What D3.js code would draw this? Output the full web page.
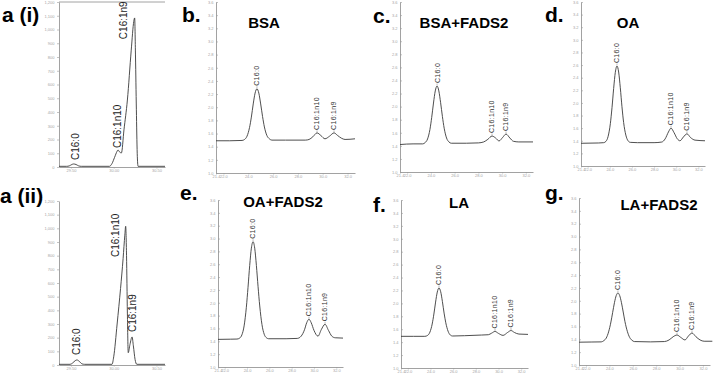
<!DOCTYPE html>
<html>
<head>
<meta charset="utf-8">
<script src="https://cdn.jsdelivr.net/npm/d3@7"></script>
<style>
  body { margin: 0; background: #fff; }
  svg { display: block; font-family: Arial, "Liberation Sans", sans-serif; }
</style>
</head>
<body>
<script>
const W = 713, H = 374;

// ---- data ----
// a panels: retention time (min) vs intensity
const aYTicks = [0, 100, 200, 300, 400, 500, 600, 700, 800, 900, 1000, 1100, 1200];
const aXTicks = [29.5, 30.0, 30.5];
// b-g panels
const yTicks = [1.0, 1.2, 1.4, 1.6, 1.8, 2.0, 2.2, 2.4, 2.6, 2.8, 3.0, 3.2, 3.4, 3.6];
const xTicks = [21.4, 22, 24, 26, 28, 30, 32];

const traceAi = [
  [29.36, 5], [29.45, 5], [29.48, 8], [29.51, 18], [29.53, 22], [29.56, 18], [29.59, 8], [29.62, 5],
  [29.95, 5], [29.98, 25], [30.01, 70], [30.04, 115], [30.05, 124], [30.065, 112], [30.09, 102],
  [30.12, 270], [30.16, 487], [30.205, 850], [30.235, 1060], [30.245, 1084], [30.255, 800],
  [30.265, 420], [30.275, 100], [30.285, 5], [30.6, 5]
];
const traceAii = [
  [29.36, 5], [29.49, 5], [29.52, 15], [29.55, 32], [29.57, 37], [29.6, 25], [29.63, 8], [29.66, 5],
  [29.98, 5], [30.0, 60], [30.04, 300], [30.08, 560], [30.11, 780], [30.13, 950], [30.14, 1015],
  [30.15, 800], [30.16, 380], [30.17, 90], [30.19, 150], [30.215, 205], [30.23, 140], [30.25, 40],
  [30.27, 5], [30.6, 5]
];
const labelsAi = [["C16:0", 29.55, 51], ["C16:1n10", 30.05, 138], ["C16:1n9", 30.115, 930]];
const labelsAii = [["C16:0", 29.57, 73], ["C16:1n10", 30.025, 790], ["C16:1n9", 30.22, 241]];

const traceB = [
  [21.4, 1.49], [22.5, 1.49], [23.5, 1.495],
  [23.7, 1.51], [23.9, 1.56], [24.1, 1.69], [24.25, 1.85], [24.4, 2.05], [24.55, 2.215], [24.7, 2.28],
  [24.85, 2.215], [25.0, 2.05], [25.15, 1.86], [25.3, 1.70], [25.5, 1.57], [25.7, 1.52], [25.9, 1.50],
  [27.0, 1.50], [28.6, 1.50], [28.9, 1.51], [29.2, 1.55], [29.54, 1.61], [29.85, 1.57], [30.18, 1.52],
  [30.55, 1.56], [30.91, 1.61], [31.2, 1.57], [31.5, 1.53], [31.8, 1.51], [32.6, 1.52]
];
const traceC = [
  [21.4, 1.42], [22.5, 1.43], [23.3, 1.43],
  [23.52, 1.45], [23.72, 1.505], [23.92, 1.65], [24.07, 1.835], [24.22, 2.055], [24.37, 2.24], [24.52, 2.315],
  [24.67, 2.24], [24.82, 2.06], [24.97, 1.85], [25.12, 1.67], [25.32, 1.52], [25.52, 1.46], [25.72, 1.44],
  [27.0, 1.44], [28.0, 1.445], [28.45, 1.46], [28.8, 1.50], [29.15, 1.55], [29.45, 1.52], [29.74, 1.475],
  [30.05, 1.53], [30.33, 1.58], [30.65, 1.52], [30.95, 1.47], [31.4, 1.46], [32.6, 1.46]
];
const traceD = [
  [21.4, 1.36], [23.0, 1.365], [23.45, 1.37],
  [23.65, 1.39], [23.85, 1.47], [24.05, 1.67], [24.2, 1.925], [24.35, 2.23], [24.5, 2.485], [24.65, 2.585],
  [24.8, 2.49], [24.95, 2.24], [25.1, 1.94], [25.25, 1.69], [25.45, 1.49], [25.65, 1.40], [25.85, 1.375],
  [26.5, 1.37], [28.0, 1.37], [28.7, 1.38], [29.0, 1.43], [29.3, 1.54], [29.53, 1.60], [29.8, 1.53],
  [30.1, 1.43], [30.34, 1.40], [30.65, 1.46], [30.97, 1.51], [31.3, 1.45], [31.7, 1.41], [32.6, 1.40]
];
const traceE = [
  [21.4, 1.43], [22.5, 1.433], [23.1, 1.435],
  [23.34, 1.45], [23.54, 1.50], [23.74, 1.64], [23.94, 1.93], [24.09, 2.24], [24.24, 2.58], [24.39, 2.85],
  [24.54, 2.95], [24.69, 2.85], [24.84, 2.58], [24.99, 2.25], [25.14, 1.95], [25.34, 1.66], [25.54, 1.51],
  [25.74, 1.455], [25.94, 1.44], [27.5, 1.44], [28.5, 1.445], [28.85, 1.48], [29.15, 1.58], [29.35, 1.69],
  [29.55, 1.743], [29.75, 1.69], [30.0, 1.57], [30.36, 1.48], [30.65, 1.58], [30.99, 1.665], [31.3, 1.57],
  [31.6, 1.48], [31.9, 1.455], [32.6, 1.45]
];
const traceF = [
  [21.4, 1.49], [22.5, 1.49], [23.5, 1.49],
  [23.75, 1.505], [23.95, 1.555], [24.15, 1.68], [24.3, 1.835], [24.45, 2.02], [24.6, 2.175], [24.75, 2.239],
  [24.9, 2.18], [25.05, 2.03], [25.2, 1.85], [25.35, 1.70], [25.55, 1.57], [25.75, 1.51], [25.95, 1.495],
  [27.0, 1.50], [28.5, 1.51], [29.1, 1.515], [29.4, 1.54], [29.69, 1.566], [30.0, 1.535], [30.4, 1.505],
  [30.8, 1.55], [31.1, 1.58], [31.4, 1.55], [31.8, 1.525], [32.6, 1.52]
];
const traceG = [
  [21.4, 1.355], [22.5, 1.358], [23.3, 1.36],
  [23.53, 1.38], [23.73, 1.42], [23.93, 1.515], [24.13, 1.67], [24.28, 1.82], [24.43, 1.97], [24.58, 2.08],
  [24.73, 2.121], [24.88, 2.08], [25.03, 1.97], [25.18, 1.825], [25.33, 1.675], [25.53, 1.525], [25.73, 1.43],
  [25.93, 1.385], [26.13, 1.365], [27.5, 1.36], [28.7, 1.365], [29.1, 1.39], [29.45, 1.44], [29.78, 1.467],
  [30.1, 1.43], [30.46, 1.39], [30.75, 1.45], [31.06, 1.498], [31.4, 1.44], [31.75, 1.39], [32.1, 1.37],
  [32.8, 1.37]
];
const labelsB = [["C16:0", 24.7, 2.28], ["C16:1n10", 29.54, 1.61], ["C16:1n9", 30.91, 1.61]];
const labelsC = [["C16:0", 24.52, 2.315], ["C16:1n10", 29.15, 1.55], ["C16:1n9", 30.33, 1.58]];
const labelsD = [["C16:0", 24.65, 2.585], ["C16:1n10", 29.53, 1.60], ["C16:1n9", 30.97, 1.51]];
const labelsE = [["C16:0", 24.54, 2.95], ["C16:1n10", 29.55, 1.743], ["C16:1n9", 30.99, 1.665]];
const labelsF = [["C16:0", 24.75, 2.239], ["C16:1n10", 29.69, 1.566], ["C16:1n9", 31.1, 1.58]];
const labelsG = [["C16:0", 24.73, 2.121], ["C16:1n10", 29.78, 1.467], ["C16:1n9", 31.06, 1.498]];

// ---- layout ----
const aX = [29.36, 30.6], aY = [0, 1200];
const bX = [21.4, 32.6], bY = [1.0, 3.6];

const panels = [
  { letter: "a (i)", lx: 2, ly: 22, box: [59, 165, 2, 167], xDom: aX, yDom: aY, xt: aXTicks, yt: aYTicks,
    xf: d3.format(".2f"), yf: d3.format(","), trace: traceAi, labels: labelsAi, big: true, top: true },
  { letter: "a (ii)", lx: 0, ly: 203, box: [59, 165, 201, 365], xDom: aX, yDom: aY, xt: aXTicks, yt: aYTicks,
    xf: d3.format(".2f"), yf: d3.format(","), trace: traceAii, labels: labelsAii, big: true },
  { letter: "b.", lx: 182, ly: 22, title: "BSA", tx: 264, ty: 28, box: [216, 355, 2, 173], trace: traceB, labels: labelsB },
  { letter: "c.", lx: 373, ly: 23, title: "BSA+FADS2", tx: 464, ty: 28, box: [400, 533, 2, 172], trace: traceC, labels: labelsC },
  { letter: "d.", lx: 545, ly: 22, title: "OA", tx: 628, ty: 28, box: [581, 705, 2, 166], trace: traceD, labels: labelsD },
  { letter: "e.", lx: 180, ly: 200, title: "OA+FADS2", tx: 283, ty: 207, box: [218, 343, 200, 367], trace: traceE, labels: labelsE },
  { letter: "f.", lx: 373, ly: 212, title: "LA", tx: 459, ty: 208, box: [401, 528, 200, 368], trace: traceF, labels: labelsF },
  { letter: "g.", lx: 545, ly: 200, title: "LA+FADS2", tx: 659, ty: 210, box: [579, 710, 198, 365], trace: traceG, labels: labelsG }
];

const svg = d3.select("body").append("svg").attr("width", W).attr("height", H);

const styleAxis = (sel) => {
  sel.select(".domain").attr("stroke", "#8a8a8a").attr("stroke-width", 0.8);
  sel.selectAll(".tick line").attr("stroke", "#9a9a9a").attr("stroke-width", 0.6);
  sel.selectAll(".tick text").attr("fill", "#a5a5a5").style("font-size", "4px");
};

panels.forEach((p) => {
  const [x0, x1, yT, yB] = p.box;
  const x = d3.scaleLinear().domain(p.xDom || bX).range([x0, x1]);
  const y = d3.scaleLinear().domain(p.yDom || bY).range([yB, yT]);
  const g = svg.append("g");

  g.append("g")
    .attr("transform", `translate(0,${yB})`)
    .call(d3.axisBottom(x).tickValues(p.xt || xTicks).tickFormat(p.xf || d3.format(".1f"))
      .tickSizeInner(1.5).tickSizeOuter(0).tickPadding(0.5))
    .call(styleAxis);

  g.append("g")
    .attr("transform", `translate(${x0},0)`)
    .call(d3.axisLeft(y).tickValues(p.yt || yTicks).tickFormat(p.yf || d3.format(".1f"))
      .tickSizeInner(p.big ? 2 : -2).tickSizeOuter(0).tickPadding(2.5))
    .call(styleAxis);

  if (p.top) {
    g.append("line")
      .attr("x1", x0).attr("x2", x1).attr("y1", yT).attr("y2", yT)
      .attr("stroke", "#8a8a8a").attr("stroke-width", 0.8);
  }

  const line = d3.line()
    .x((d) => x(d[0]))
    .y((d) => y(d[1]))
    .curve(d3.curveMonotoneX);

  g.append("path")
    .datum(p.trace)
    .attr("d", line)
    .attr("fill", "none")
    .attr("stroke", "#3a3a3a")
    .attr("stroke-width", 0.9);

  // peak labels
  if (p.big) {
    g.selectAll(".plab")
      .data(p.labels)
      .join("text")
      .attr("transform", (d) => `translate(${x(d[1])},${y(d[2])}) rotate(-90)`)
      .attr("dy", "0.35em")
      .style("font-size", "10px")
      .attr("fill", "#222")
      .text((d) => d[0]);
  } else {
    g.selectAll(".lead")
      .data(p.labels)
      .join("line")
      .attr("x1", (d) => x(d[1])).attr("x2", (d) => x(d[1]))
      .attr("y1", (d) => y(d[2]) - 0.5).attr("y2", (d) => y(d[2]) - 2.5)
      .attr("stroke", "#777").attr("stroke-width", 0.5);
    g.selectAll(".plab")
      .data(p.labels)
      .join("text")
      .attr("transform", (d) => `translate(${x(d[1])},${y(d[2]) - 3}) rotate(-90)`)
      .attr("dy", "0.35em")
      .style("font-size", "7px")
      .style("letter-spacing", "0.3px")
      .attr("fill", "#333")
      .text((d) => d[0]);
  }

  // panel letter and title
  svg.append("text")
    .attr("x", p.lx).attr("y", p.ly)
    .style("font-size", "21px").style("font-weight", "bold")
    .text(p.letter);

  if (p.title) {
    svg.append("text")
      .attr("x", p.tx).attr("y", p.ty)
      .attr("text-anchor", "middle")
      .style("font-size", "15px").style("font-weight", "bold")
      .text(p.title);
  }
});
</script>
</body>
</html>
